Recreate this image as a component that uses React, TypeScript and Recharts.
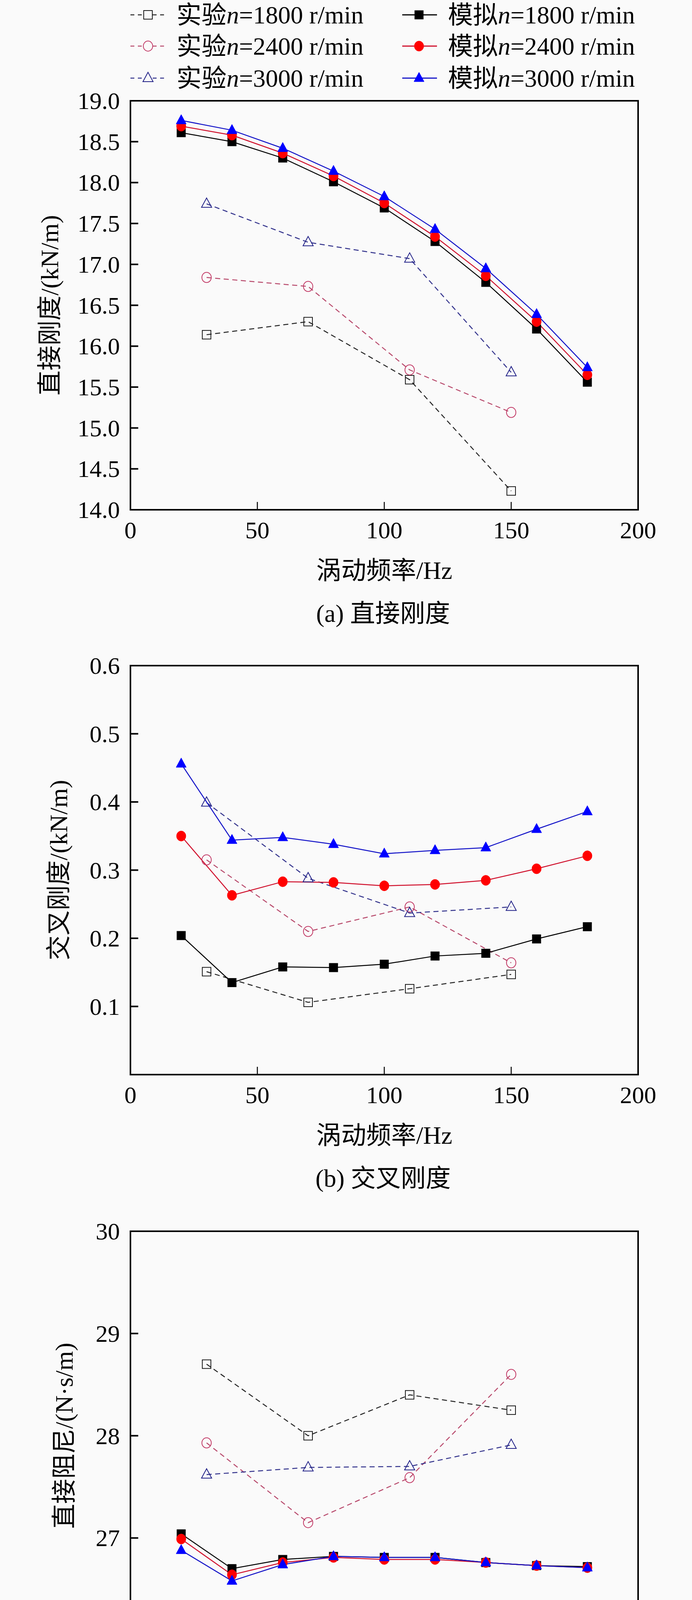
import React from "react";
import { LineChart, Line, XAxis, YAxis, ReferenceArea, Legend } from "recharts";

const FONT = "'Liberation Serif', 'Times New Roman', 'Noto Sans CJK SC', serif";

// 横坐标：涡动频率 (Hz)
const simFreq = [20, 40, 60, 80, 100, 120, 140, 160, 180];
const expFreq = [30, 70, 110, 150];
const freqTicks = [0, 50, 100, 150, 200];
const speeds = [1800, 2400, 3000];

// (a) 直接刚度 kN/m
const kDirSim1800 = [18.61, 18.5, 18.3, 18.01, 17.69, 17.28, 16.78, 16.21, 15.56];
const kDirSim2400 = [18.69, 18.58, 18.36, 18.08, 17.75, 17.34, 16.86, 16.3, 15.65];
const kDirSim3000 = [18.76, 18.64, 18.42, 18.14, 17.83, 17.43, 16.95, 16.39, 15.74];
const kDirExp1800 = [16.14, 16.3, 15.59, 14.23];
const kDirExp2400 = [16.84, 16.73, 15.71, 15.19];
const kDirExp3000 = [17.74, 17.27, 17.07, 15.68];
const kDirTicks = [14, 14.5, 15, 15.5, 16, 16.5, 17, 17.5, 18, 18.5, 19];

// (b) 交叉刚度 kN/m
const kCrossSim1800 = [0.204, 0.135, 0.158, 0.157, 0.162, 0.174, 0.178, 0.199, 0.217];
const kCrossSim2400 = [0.35, 0.263, 0.283, 0.282, 0.277, 0.279, 0.285, 0.302, 0.321];
const kCrossSim3000 = [0.456, 0.344, 0.348, 0.338, 0.324, 0.329, 0.333, 0.36, 0.386];
const kCrossExp1800 = [0.151, 0.106, 0.126, 0.147];
const kCrossExp2400 = [0.315, 0.21, 0.246, 0.164];
const kCrossExp3000 = [0.399, 0.288, 0.237, 0.246];
const kCrossTicks = [0.1, 0.2, 0.3, 0.4, 0.5, 0.6];

// (c) 直接阻尼 N·s/m
const cDirSim1800 = [27.04, 26.7, 26.79, 26.82, 26.81, 26.81, 26.76, 26.73, 26.72];
const cDirSim2400 = [26.99, 26.64, 26.76, 26.81, 26.79, 26.79, 26.76, 26.73, 26.71];
const cDirSim3000 = [26.88, 26.58, 26.74, 26.82, 26.81, 26.81, 26.76, 26.73, 26.71];
const cDirExp1800 = [28.7, 28.0, 28.4, 28.25];
const cDirExp2400 = [27.93, 27.15, 27.59, 28.6];
const cDirExp3000 = [27.62, 27.69, 27.7, 27.91];
const cDirTicks = [26, 27, 28, 29, 30];

// (d) 有效阻尼 N·s/m
const cEffSim1800 = [25.42, 26.17, 26.37, 26.5, 26.54, 26.57, 26.57, 26.54, 26.53];
const cEffSim2400 = [24.22, 25.6, 26.01, 26.25, 26.37, 26.43, 26.45, 26.43, 26.43];
const cEffSim3000 = [23.28, 25.21, 25.83, 26.15, 26.3, 26.38, 26.4, 26.38, 26.38];
const cEffExp1800 = [27.9, 27.77, 28.22, 28.11];
const cEffExp2400 = [26.27, 26.7, 27.23, 28.43];
const cEffExp3000 = [25.51, 27.04, 27.38, 27.67];
const cEffTicks = [23, 24, 25, 26, 27, 28, 29, 30];

type Shape = "square" | "circle" | "triangle";

const expStyles = [
  { shape: "square" as Shape, stroke: "#1a1a1a", line: "#262626" },
  { shape: "circle" as Shape, stroke: "#c23a66", line: "#b84a6c" },
  { shape: "triangle" as Shape, stroke: "#1f1f86", line: "#33338c" },
];
const simStyles = [
  { shape: "square" as Shape, fill: "#000000", line: "#000000" },
  { shape: "circle" as Shape, fill: "#ff0000", line: "#d0102c" },
  { shape: "triangle" as Shape, fill: "#0000ff", line: "#1414c8" },
];

const panels = [
  {
    id: "a", yTitle: "直接刚度/(kN/m)", caption: "(a) 直接刚度", domain: [14, 19], ticks: kDirTicks, digits: 1,
    sim: [kDirSim1800, kDirSim2400, kDirSim3000], exp: [kDirExp1800, kDirExp2400, kDirExp3000],
    height: 1640, top: 258, titleX: 127, legend: true,
  },
  {
    id: "b", yTitle: "交叉刚度/(kN/m)", caption: "(b) 交叉刚度", domain: [0, 0.6], ticks: kCrossTicks, digits: 1,
    sim: [kCrossSim1800, kCrossSim2400, kCrossSim3000], exp: [kCrossExp1800, kCrossExp2400, kCrossExp3000],
    height: 1448, top: 64, titleX: 150, legend: false,
  },
  {
    id: "c", yTitle: "直接阻尼/(N·s/m)", caption: "(c) 直接阻尼", domain: [26, 30], ticks: cDirTicks, digits: 0,
    sim: [cDirSim1800, cDirSim2400, cDirSim3000], exp: [cDirExp1800, cDirExp2400, cDirExp3000],
    height: 1448, top: 64, titleX: 164, legend: false,
  },
  {
    id: "d", yTitle: "有效阻尼/(N·s/m)", caption: "(d) 有效阻尼", domain: [23, 30], ticks: cEffTicks, digits: 0,
    sim: [cEffSim1800, cEffSim2400, cEffSim3000], exp: [cEffExp1800, cEffExp2400, cEffExp3000],
    height: 1414, top: 64, titleX: 166, legend: false,
  },
];

const PLOT_H = 1047;
const AXIS_W = 334;
const RIGHT = 138;

function toPoints(xs: number[], ys: number[]) {
  return xs.map((f, i) => ({ f, v: ys[i] }));
}

function MarkerShape({ shape, cx, cy, fill, stroke, sw }: any) {
  if (shape === "square") {
    return <rect x={cx - 11} y={cy - 11} width={22} height={22} fill={fill} stroke={stroke} strokeWidth={sw} />;
  }
  if (shape === "circle") {
    return <ellipse cx={cx} cy={cy} rx={12} ry={13} fill={fill} stroke={stroke} strokeWidth={sw} />;
  }
  return (
    <polygon
      points={`${cx},${cy - 15} ${cx - 13},${cy + 9} ${cx + 13},${cy + 9}`}
      fill={fill}
      stroke={stroke}
      strokeWidth={sw}
    />
  );
}

function makeDot(shape: Shape, fill: string, stroke: string, sw: number) {
  return (props: any) => {
    const { cx, cy, index } = props;
    if (cx == null || cy == null) return <g key={`e-${index}`} />;
    return <MarkerShape key={`m-${index}`} shape={shape} cx={cx} cy={cy} fill={fill} stroke={stroke} sw={sw} />;
  };
}

const XTick = (props: any) => {
  const { x, y, payload } = props;
  return (
    <g>
      <line x1={x} y1={y} x2={x} y2={y - 20} stroke="#000" strokeWidth={2.5} />
      <text x={x} y={y + 73} textAnchor="middle" fontSize={62} fontFamily={FONT} fill="#000">
        {payload.value}
      </text>
    </g>
  );
};

function makeYTick(digits: number) {
  return (props: any) => {
    const { x, y, payload } = props;
    return (
      <g>
        <line x1={x} y1={y} x2={x + 20} y2={y} stroke="#000" strokeWidth={4} />
        <text x={x - 27} y={y} dy="0.34em" textAnchor="end" fontSize={62} fontFamily={FONT} fill="#000">
          {Number(payload.value).toFixed(digits)}
        </text>
      </g>
    );
  };
}

function LegendBox() {
  const rowsY = [38, 118, 200];
  return (
    <svg width={1772} height={250} style={{ display: "block" }}>
      {speeds.map((n, i) => {
        const y = rowsY[i];
        const e = expStyles[i];
        const s = simStyles[i];
        return (
          <g key={n}>
            <line x1={334} y1={y} x2={427} y2={y} stroke={e.line} strokeWidth={2.5} strokeDasharray="10 9" />
            <MarkerShape shape={e.shape} cx={379} cy={y} fill="#fafafa" stroke={e.stroke} sw={2} />
            <text x={452} y={y + 22} fontSize={64} fontFamily={FONT} fill="#000">
              实验<tspan fontStyle="italic">n</tspan>={n} r/min
            </text>
            <line x1={1030} y1={y} x2={1119} y2={y} stroke={s.line} strokeWidth={3} />
            <MarkerShape shape={s.shape} cx={1073} cy={y} fill={s.fill} stroke={s.fill} sw={1} />
            <text x={1147} y={y + 22} fontSize={64} fontFamily={FONT} fill="#000">
              模拟<tspan fontStyle="italic">n</tspan>={n} r/min
            </text>
          </g>
        );
      })}
    </svg>
  );
}

function Panel({ p }: { p: (typeof panels)[number] }) {
  const xAxisH = p.height - p.top - PLOT_H;
  return (
    <LineChart
      width={1772}
      height={p.height}
      margin={{ top: p.top, right: RIGHT, bottom: 0, left: 0 }}
    >
      <XAxis
        dataKey="f"
        type="number"
        domain={[0, 200]}
        ticks={freqTicks}
        height={xAxisH}
        axisLine={false}
        tickLine={false}
        tickSize={0}
        tickMargin={0}
        tick={XTick}
        interval={0}
        label={(lp: any) => {
          const vb = lp.viewBox || { x: AXIS_W, y: p.top + PLOT_H, width: 1300 };
          const cx = vb.x + vb.width / 2;
          return (
            <g>
              <text x={cx} y={vb.y + 155} dy="0.35em" textAnchor="middle" fontSize={64} fontFamily={FONT} fill="#000">
                涡动频率/Hz
              </text>
              <text x={cx - 3} y={vb.y + 265} dy="0.35em" textAnchor="middle" fontSize={64} fontFamily={FONT} fill="#000">
                {p.caption}
              </text>
            </g>
          );
        }}
      />
      <YAxis
        type="number"
        domain={p.domain}
        ticks={p.ticks}
        width={AXIS_W}
        axisLine={false}
        tickLine={false}
        tickSize={0}
        tickMargin={0}
        tick={makeYTick(p.digits)}
        interval={0}
        allowDataOverflow
        label={(lp: any) => {
          const vb = lp.viewBox || { y: p.top, height: PLOT_H };
          const cy = vb.y + vb.height / 2;
          return (
            <text
              x={p.titleX}
              y={cy}
              dy="0.35em"
              textAnchor="middle"
              transform={`rotate(-90, ${p.titleX}, ${cy})`}
              fontSize={64}
              fontFamily={FONT}
              fill="#000"
            >
              {p.yTitle}
            </text>
          );
        }}
      />
      <ReferenceArea
        x1={0}
        x2={200}
        y1={p.domain[0]}
        y2={p.domain[1]}
        fill="none"
        fillOpacity={0}
        stroke="#000"
        strokeWidth={4}
        ifOverflow="visible"
      />
      {p.exp.map((ys, i) => (
        <Line
          key={`exp-${i}`}
          data={toPoints(expFreq, ys)}
          dataKey="v"
          name={`实验n=${speeds[i]} r/min`}
          stroke={expStyles[i].line}
          strokeWidth={2.5}
          strokeDasharray="13 9"
          dot={makeDot(expStyles[i].shape, "none", expStyles[i].stroke, 2)}
          activeDot={false}
          isAnimationActive={false}
        />
      ))}
      {p.sim.map((ys, i) => (
        <Line
          key={`sim-${i}`}
          data={toPoints(simFreq, ys)}
          dataKey="v"
          name={`模拟n=${speeds[i]} r/min`}
          stroke={simStyles[i].line}
          strokeWidth={2.5}
          dot={makeDot(simStyles[i].shape, simStyles[i].fill, simStyles[i].fill, 1)}
          activeDot={false}
          isAnimationActive={false}
        />
      ))}
      {p.legend && (
        <Legend
          layout="horizontal"
          verticalAlign="middle"
          align="center"
          wrapperStyle={{ top: 0, left: 0, width: 1772, height: 250 }}
          content={() => <LegendBox />}
        />
      )}
    </LineChart>
  );
}

export default function App() {
  return (
    <div style={{ width: 1772, height: 5950, background: "#fafafa", overflow: "hidden" }}>
      <style>{`html, body { margin: 0; padding: 0; background: #fafafa; }`}</style>
      {panels.map((p) => (
        <div key={p.id} style={{ width: 1772, height: p.height }}>
          <Panel p={p} />
        </div>
      ))}
    </div>
  );
}
